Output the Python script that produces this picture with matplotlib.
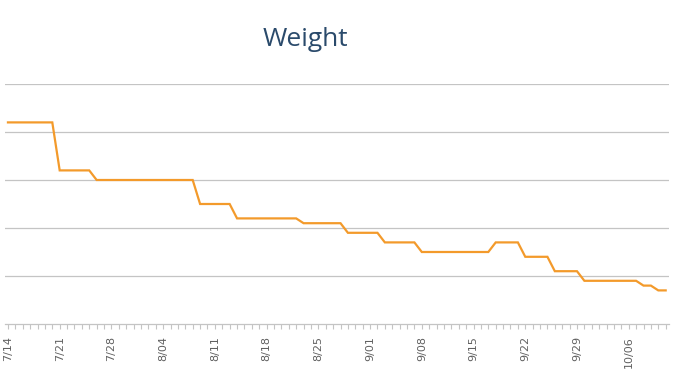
import matplotlib
matplotlib.use("Agg")
import matplotlib.pyplot as plt
import numpy as np

week_labels = ["7/14", "7/21", "7/28", "8/04", "8/11", "8/18", "8/25",
               "9/01", "9/08", "9/15", "9/22", "9/29", "10/06"]
# daily weight values from 7/14 to 10/11
weights = ([171.0] * 7 + [166.0] * 5 + [165.0] * 14 + [162.5] * 5 +
           [161.0] * 9 + [160.5] * 6 + [159.5] * 5 + [158.5] * 5 +
           [157.5] * 10 + [158.5] * 4 + [157.0] * 4 + [155.5] * 4 +
           [154.5] * 8 + [154.0] * 2 + [153.5] * 2)
days = np.arange(len(weights))

W, H = 679, 379
fig = plt.figure(figsize=(W / 100, H / 100), dpi=100)
ax = fig.add_axes([5 / W, 1 - 324 / H, (669 - 5) / W, (324 - 84) / H])

ax.plot(days, weights, color="#f39a2b", lw=1.6, solid_joinstyle="miter")
ax.set_xlim(-0.4, len(weights) - 1 + 0.45)
ax.set_ylim(150, 175)
ax.set_yticks([155, 160, 165, 170, 175])
ax.grid(axis="y", color="#c4c4c4", lw=0.9)
ax.set_axisbelow(True)
ax.tick_params(axis="y", left=False, labelleft=False)
for s in ["top", "right", "left"]:
    ax.spines[s].set_visible(False)
ax.spines["bottom"].set_color("#c4c4c4")
ax.spines["bottom"].set_linewidth(0.9)

ax.set_xticks(np.arange(0, len(weights), 7))
ax.set_xticklabels(week_labels, rotation=90, fontsize=8, color="#606060",
                   family="DejaVu Sans")
ax.set_xticks(days, minor=True)
ax.tick_params(axis="x", which="both", length=3.5, color="#c4c4c4", width=0.8,
               pad=5)

fig.text(305 / W, 1 - 40 / H, "Weight", ha="center", va="center",
         fontsize=19, color="#2a4a6b", family="Open Sans")

fig.savefig("out.png", dpi=100, facecolor="white")
